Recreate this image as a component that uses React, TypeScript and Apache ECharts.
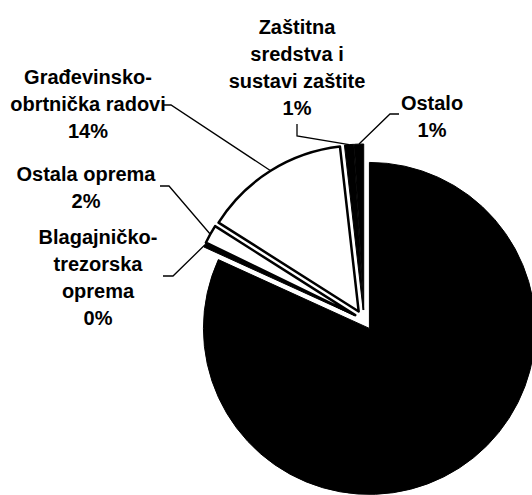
import React, { useEffect, useRef } from 'react';
import * as echarts from 'echarts';

// Data (clockwise from 12 o'clock)
const categories: string[] = [
  'Ostali troškovi',
  'Blagajničko-\ntrezorska\noprema',
  'Ostala oprema',
  'Građevinsko-\nobrtnička radovi',
  'Zaštitna\nsredstva i\nsustavi zaštite',
  'Ostalo',
];
const shares: number[] = [81.8, 0.4, 1.8, 14.2, 0.9, 0.9];
const percentLabels: string[] = ['82%', '0%', '2%', '14%', '1%', '1%'];
const sliceColors: string[] = ['#000000', '#000000', '#ffffff', '#ffffff', '#000000', '#000000'];
const showLabel: boolean[] = [false, true, true, true, true, true];

// Pie geometry
const CX = 364;
const CY = 320;
const R = 166;
const OFFSET = 10;

// Label placement (label centre, elbow and end of the leader line)
const labelPlacement: ({ x: number; y: number; elbow: number[]; end: number[] } | null)[] = [
  null,
  { x: 98, y: 277, elbow: [173, 276], end: [163, 276] },
  { x: 86, y: 187, elbow: [169, 186], end: [160, 186] },
  { x: 88, y: 104, elbow: [171, 105], end: [163, 105] },
  { x: 297, y: 67, elbow: [297, 136], end: [297, 124] },
  { x: 432, y: 116, elbow: [390, 114], end: [399, 114] },
];

const FONT = 'Liberation Sans, Arial, sans-serif';

export default function App() {
  const ref = useRef<HTMLDivElement>(null);
  useEffect(() => {
    if (!ref.current) return;
    const chart = echarts.init(ref.current, undefined, { renderer: 'svg' });
    const total = shares.reduce((a, b) => a + b, 0);
    const data = categories.map((name, i) => ({
      name,
      value: shares[i],
      selected: true,
      itemStyle: {
        color: sliceColors[i],
        borderColor: '#000',
        borderWidth: sliceColors[i] === '#ffffff' ? 2.5 : 1,
      },
    }));

    // leader lines start at each exploded slice's outer arc, at its mid angle
    const graphics: any[] = [];
    let cum = 0;
    shares.forEach((v, i) => {
      const mid = ((cum + v / 2) / total) * Math.PI * 2;
      cum += v;
      const p = labelPlacement[i];
      if (!showLabel[i] || !p) return;
      const dx = Math.sin(mid);
      const dy = -Math.cos(mid);
      const sx = CX + (OFFSET + R) * dx;
      const sy = CY + (OFFSET + R) * dy;
      graphics.push({
        type: 'polyline',
        silent: true,
        shape: { points: [[sx, sy], p.elbow, p.end] },
        style: { stroke: '#000', lineWidth: 1.3, fill: null },
        z: 10,
      });
      graphics.push({
        type: 'text',
        silent: true,
        x: p.x,
        y: p.y,
        style: {
          text: categories[i] + '\n' + percentLabels[i],
          fill: '#000',
          fontFamily: FONT,
          fontSize: 20,
          fontWeight: 'bold',
          lineHeight: 27,
          align: 'center',
          verticalAlign: 'middle',
        },
        z: 10,
      });
    });

    chart.setOption({
      animation: false,
      backgroundColor: '#ffffff',
      series: [
        {
          type: 'pie',
          center: [CX, CY],
          radius: R,
          startAngle: 90,
          clockwise: true,
          selectedMode: 'multiple',
          selectedOffset: OFFSET,
          avoidLabelOverlap: false,
          silent: true,
          emphasis: { disabled: true },
          label: { show: false },
          labelLine: { show: false },
          data,
        },
      ],
      graphic: graphics,
    });
    return () => chart.dispose();
  }, []);
  return (
    <div
      ref={ref}
      style={{ position: 'fixed', left: 0, top: 0, width: 532, height: 495 }}
    />
  );
}
